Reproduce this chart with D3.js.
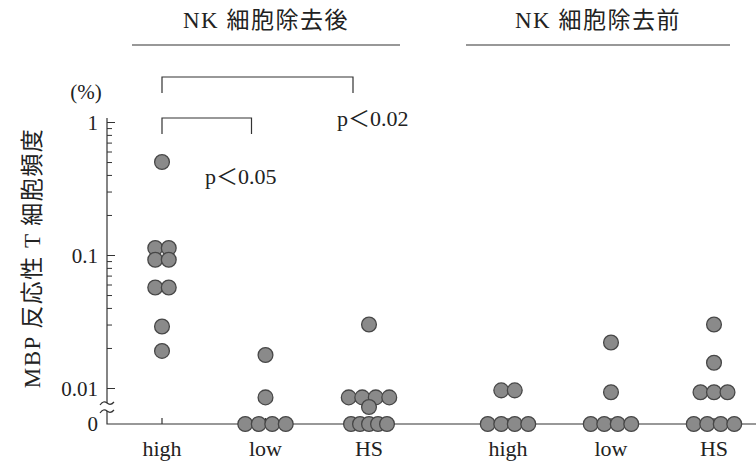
<!DOCTYPE html>
<html>
<head>
<meta charset="utf-8">
<script src="https://cdn.jsdelivr.net/npm/d3@7"></script>
<style>
  body { margin: 0; background: #fff; }
  #chart { width: 756px; height: 463px; }
  text { font-family: "Liberation Serif", "Noto Sans CJK JP", serif; fill: #222; }
</style>
</head>
<body>
<div id="chart"></div>
<script>
// data (%), 0 = not detected
const categories = ["high", "low", "HS"];
const panelTitles = ["NK 細胞除去後", "NK 細胞除去前"];
const afterHigh = [0.5, 0.113, 0.113, 0.092, 0.092, 0.057, 0.057, 0.029, 0.019];
const afterLow = [0.0177, 0.0085, 0, 0, 0, 0];
const afterHS = [0.03, 0.0085, 0.0085, 0.0085, 0.0085, 0.0072, 0, 0, 0, 0, 0];
const beforeHigh = [0.0096, 0.0096, 0, 0, 0, 0];
const beforeLow = [0.022, 0.0093, 0, 0, 0, 0];
const beforeHS = [0.03, 0.0155, 0.0093, 0.0093, 0.0093, 0, 0, 0, 0];
const majorTicks = [0.01, 0.1, 1];
const tickLabels = ["0.01", "0.1", "1"];
const pValues = ["p＜0.05", "p＜0.02"];

const width = 756, height = 463;
const svg = d3.select("#chart").append("svg")
    .attr("width", width)
    .attr("height", height);

// latin runs in serif, CJK runs in the CJK font
function mixedText(sel, str) {
    str.split(/([\u3000-\u9fff\uff00-\uffef]+)/).filter(s => s.length).forEach(function(s) {
        const cjk = /[\u3000-\u9fff\uff00-\uffef]/.test(s);
        sel.append("tspan")
            .attr("font-family", cjk ? "Noto Sans CJK JP" : "Liberation Serif")
            .text(s);
    });
    return sel;
}

//scales
const axisX = 107, zeroY = 424;
const yScale = d3.scaleLog().domain([0.01, 1]).range([388, 122]);
const xLeft = d3.scalePoint().domain(categories).range([162, 369]);
const xRight = d3.scalePoint().domain(categories).range([508, 714]);

//minor + major ticks
const minorTicks = yScale.ticks().filter(d => !majorTicks.includes(d));
svg.append("g")
    .attr("transform", `translate(${axisX},0)`)
    .call(d3.axisLeft(yScale).tickValues(minorTicks).tickSize(-5).tickFormat(""))
    .call(g => g.select(".domain").remove())
    .call(g => g.selectAll("line").attr("stroke", "#333"));
svg.append("g")
    .attr("transform", `translate(${axisX},0)`)
    .call(d3.axisLeft(yScale).tickValues(majorTicks).tickSize(-8).tickPadding(9)
        .tickFormat((d, i) => tickLabels[i]))
    .call(g => g.select(".domain").remove())
    .call(g => g.selectAll("line").attr("stroke", "#333"))
    .call(g => g.selectAll("text").attr("font-size", 21).attr("font-family", "Liberation Serif").attr("dy", "0.35em"));

//axis line with break
const line = svg.append("g").attr("fill", "none").attr("stroke", "#333").attr("stroke-width", 1.2);
line.append("path").attr("d", `M${axisX},118V403`);
line.append("path").attr("d", `M${axisX - 7},405q3.5,-5 7,-2t7,-1`);
line.append("path").attr("d", `M${axisX - 7},413q3.5,-5 7,-2t7,-1`);
line.append("path").attr("d", `M${axisX},411V${zeroY}H${width}`);
svg.append("text")
    .attr("x", axisX - 9).attr("y", zeroY).attr("dy", "0.35em")
    .attr("text-anchor", "end").attr("font-size", 21)
    .text("0");

//category ticks and labels
[xLeft, xRight].forEach(function(x) {
    categories.forEach(function(c) {
        line.append("path").attr("d", `M${x(c)},${zeroY}v-6`);
        svg.append("text")
            .attr("x", x(c)).attr("y", 456)
            .attr("text-anchor", "middle").attr("font-size", 22)
            .text(c);
    });
});

//points: same values are laid out side by side
const groups = [
    {x: xLeft, cat: "high", values: afterHigh},
    {x: xLeft, cat: "low", values: afterLow},
    {x: xLeft, cat: "HS", values: afterHS},
    {x: xRight, cat: "high", values: beforeHigh},
    {x: xRight, cat: "low", values: beforeLow},
    {x: xRight, cat: "HS", values: beforeHS}
];
const points = [];
groups.forEach(function(g) {
    d3.groups(g.values, d => d).forEach(function([v, arr]) {
        const n = arr.length;
        const step = n > 4 ? 9 : 13.5;
        arr.forEach(function(d, i) {
            points.push({
                cx: g.x(g.cat) + (i - (n - 1) / 2) * step,
                cy: v > 0 ? yScale(v) : zeroY
            });
        });
    });
});
svg.selectAll("circle")
    .data(points)
    .enter()
    .append("circle")
        .attr("cx", d => d.cx)
        .attr("cy", d => d.cy)
        .attr("r", 7.4)
        .attr("fill", "#8a8a8a")
        .attr("stroke", "#474747")
        .attr("stroke-width", 1.3);

//titles
const titles = [{x0: 132, x1: 400}, {x0: 466, x1: 730}];
titles.forEach(function(t, i) {
    svg.append("text")
        .attr("x", (t.x0 + t.x1) / 2).attr("y", 28)
        .attr("text-anchor", "middle").attr("font-size", 23)
        .attr("letter-spacing", 1.5)
        .call(mixedText, panelTitles[i]);
    line.append("path").attr("d", `M${t.x0},45H${t.x1}`);
});

//significance brackets
const bracket = svg.append("g").attr("fill", "none").attr("stroke", "#333").attr("stroke-width", 1.2);
bracket.append("path").attr("d", `M${xLeft("high")},93V77H${xLeft("HS") - 16}V93`);
bracket.append("path").attr("d", `M${xLeft("high")},134V118H${xLeft("low") - 14}V134`);
svg.append("text").attr("x", 205).attr("y", 184).attr("font-size", 22).call(mixedText, pValues[0]);
svg.append("text").attr("x", 337).attr("y", 126).attr("font-size", 22).call(mixedText, pValues[1]);

//axis labels
svg.append("text")
    .attr("x", 86).attr("y", 99)
    .attr("text-anchor", "middle").attr("font-size", 21)
    .text("(%)");
svg.append("text")
    .attr("transform", "translate(40,258) rotate(-90)")
    .attr("text-anchor", "middle").attr("font-size", 23)
    .attr("letter-spacing", 1.5)
    .call(mixedText, "MBP 反応性 T 細胞頻度");
</script>
</body>
</html>
